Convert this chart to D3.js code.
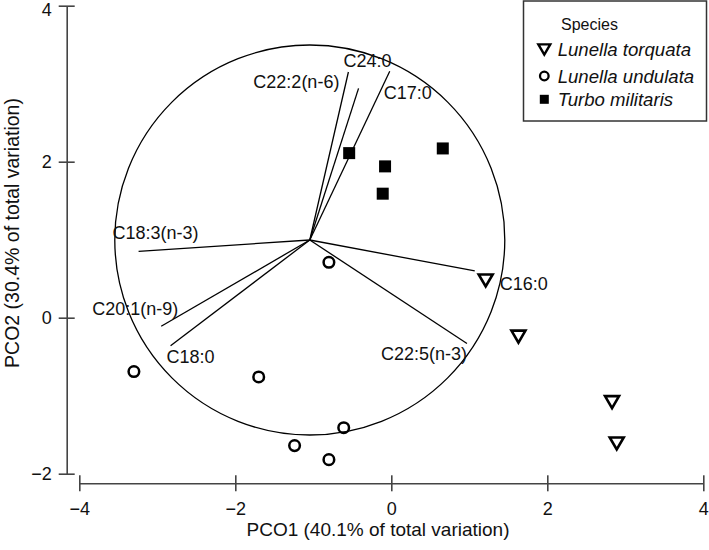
<!DOCTYPE html>
<html>
<head>
<meta charset="utf-8">
<script src="https://cdn.jsdelivr.net/npm/d3@7"></script>
<style>
  body { margin: 0; background: #fff; }
  svg { display: block; font-family: "Liberation Sans", Arial, sans-serif; }
</style>
</head>
<body>
<div id="chart"></div>
<script>
// species scores on PCO1 / PCO2
var torquataX = [1.21, 1.63, 2.83, 2.89];
var torquataY = [0.48, -0.24, -1.08, -1.61];
var undulataX = [-0.80, -3.30, -1.70, -0.61, -1.24, -0.80];
var undulataY = [0.71, -0.69, -0.76, -1.41, -1.64, -1.82];
var militarisX = [-0.54, -0.08, -0.11, 0.66];
var militarisY = [2.11, 1.94, 1.59, 2.17];

// fatty acid vectors (end points), common origin and circle radius
var vectorNames = ["C22:2(n-6)", "C24:0", "C17:0", "C18:3(n-3)", "C20:1(n-9)", "C18:0", "C22:5(n-3)", "C16:0"];
var vectorX = [-0.55, -0.42, -0.02, -3.24, -2.95, -2.83, 0.97, 1.07];
var vectorY = [3.15, 2.94, 3.16, 0.85, -0.11, -0.36, -0.33, 0.60];
var originX = -1.045, originY = 0.996, circleR = 2.5;

var xTicks = [-4, -2, 0, 2, 4];
var yTicks = [-2, 0, 2, 4];
var speciesNames = ["Lunella torquata", "Lunella undulata", "Turbo militaris"];
var xTitle = "PCO1 (40.1% of total variation)";
var yTitle = "PCO2 (30.4% of total variation)";

// label placement relative to vector tip (px)
var labelDx = [-9, -15, -6, -26, -69, -4, 0, 25];
var labelDy = [16, -21, 27.5, -12.7, -11, 17.5, 17, 19];
var labelAnchor = ["end", "start", "start", "start", "start", "start", "end", "start"];

var width = 709, height = 550;
var svg = d3.select("#chart").append("svg").attr("width", width).attr("height", height);

var xScale = d3.scaleLinear().domain([-4, 4]).range([79.3, 703.3]);
var yScale = d3.scaleLinear().domain([-2, 4]).range([473.7, 5.7]);
var axisX = 66.7, axisY = 483.3;
var fmt = function(d){ return d3.format("d")(d).replace("-", "\u2212"); };

// y axis
var gy = svg.append("g")
    .attr("transform", "translate(" + axisX + ",0)")
    .call(d3.axisLeft(yScale).tickValues(yTicks).tickSize(8).tickSizeOuter(0).tickFormat(fmt));
gy.selectAll(".tick line").attr("x1", 8).attr("x2", -8);
gy.selectAll("text").attr("x", -15).attr("font-size", 18).attr("fill", "#111").attr("font-family", null)
    .attr("dy", function(d){ return d == 4 ? "0.55em" : "0.32em"; });

// x axis
var gx = svg.append("g")
    .attr("transform", "translate(0," + axisY + ")")
    .call(d3.axisBottom(xScale).tickValues(xTicks).tickSize(8).tickSizeOuter(0).tickFormat(fmt));
gx.selectAll(".tick line").attr("y1", -8).attr("y2", 8);
gx.selectAll("text").attr("y", 19).attr("font-size", 18).attr("fill", "#111").attr("font-family", null);

svg.selectAll(".domain, .tick line").attr("stroke", "#444").attr("stroke-width", 1.6);

// axis titles
svg.append("text")
    .attr("x", 378).attr("y", 536)
    .attr("text-anchor", "middle").attr("font-size", 19).attr("fill", "#111")
    .text(xTitle);
svg.append("text")
    .attr("transform", "translate(19,233) rotate(-90)")
    .attr("text-anchor", "middle").attr("font-size", 19.5).attr("fill", "#111")
    .text(yTitle);

// correlation circle
var ox = xScale(originX), oy = yScale(originY);
svg.append("circle")
    .attr("cx", ox).attr("cy", oy)
    .attr("r", xScale(originX + circleR) - ox)
    .attr("fill", "none").attr("stroke", "#000").attr("stroke-width", 1.3);

// vectors
var vectors = vectorNames.map(function(n, i){ return {name: n, x: vectorX[i], y: vectorY[i], i: i}; });
svg.selectAll(".vec")
    .data(vectors)
    .enter().append("line")
    .attr("class", "vec")
    .attr("x1", ox).attr("y1", oy)
    .attr("x2", function(d){ return xScale(d.x); })
    .attr("y2", function(d){ return yScale(d.y); })
    .attr("stroke", "#000").attr("stroke-width", 1.3);

svg.selectAll(".vlab")
    .data(vectors)
    .enter().append("text")
    .attr("class", "vlab")
    .attr("x", function(d){ return xScale(d.x) + labelDx[d.i]; })
    .attr("y", function(d){ return yScale(d.y) + labelDy[d.i]; })
    .attr("text-anchor", function(d){ return labelAnchor[d.i]; })
    .attr("font-size", 18).attr("fill", "#111")
    .text(function(d){ return d.name; });

// markers
var triPath = function(s){ return "M" + (-7*s) + "," + (-5.8*s) + "L" + (7*s) + "," + (-5.8*s) + "L0," + (6.2*s) + "Z"; };

var tri = torquataX.map(function(v, i){ return {x: v, y: torquataY[i]}; });
svg.selectAll(".tri")
    .data(tri)
    .enter().append("path")
    .attr("class", "tri")
    .attr("d", triPath(1))
    .attr("transform", function(d){ return "translate(" + xScale(d.x) + "," + yScale(d.y) + ")"; })
    .attr("fill", "none").attr("stroke", "#000").attr("stroke-width", 2.6);

var circ = undulataX.map(function(v, i){ return {x: v, y: undulataY[i]}; });
svg.selectAll(".circ")
    .data(circ)
    .enter().append("circle")
    .attr("class", "circ")
    .attr("cx", function(d){ return xScale(d.x); })
    .attr("cy", function(d){ return yScale(d.y); })
    .attr("r", 5.3)
    .attr("fill", "none").attr("stroke", "#000").attr("stroke-width", 2.5);

var sq = militarisX.map(function(v, i){ return {x: v, y: militarisY[i]}; });
svg.selectAll(".sq")
    .data(sq)
    .enter().append("rect")
    .attr("class", "sq")
    .attr("x", function(d){ return xScale(d.x) - 6; })
    .attr("y", function(d){ return yScale(d.y) - 6; })
    .attr("width", 12).attr("height", 12)
    .attr("fill", "#000");

// legend
var lg = svg.append("g");
lg.append("rect")
    .attr("x", 523.5).attr("y", 1).attr("width", 183).attr("height", 120)
    .attr("fill", "#fff").attr("stroke", "#333").attr("stroke-width", 1.5);
lg.append("text").attr("x", 561).attr("y", 30).attr("font-size", 16).attr("fill", "#111").text("Species");

var legY = [49.3, 76, 99.3];
lg.append("path").attr("d", triPath(0.85))
    .attr("transform", "translate(544.3," + legY[0] + ")")
    .attr("fill", "none").attr("stroke", "#000").attr("stroke-width", 2.4);
lg.append("circle").attr("cx", 544.3).attr("cy", legY[1]).attr("r", 4.3)
    .attr("fill", "none").attr("stroke", "#000").attr("stroke-width", 2.3);
lg.append("rect").attr("x", 544.3 - 4.5).attr("y", legY[2] - 4.5).attr("width", 9).attr("height", 9).attr("fill", "#000");

lg.selectAll(".ltxt")
    .data(speciesNames)
    .enter().append("text")
    .attr("class", "ltxt")
    .attr("x", 557.7)
    .attr("y", function(d, i){ return legY[i] + 6.5; })
    .attr("font-size", 18.6).attr("font-style", "italic").attr("fill", "#111")
    .text(function(d){ return d; });
</script>
</body>
</html>
